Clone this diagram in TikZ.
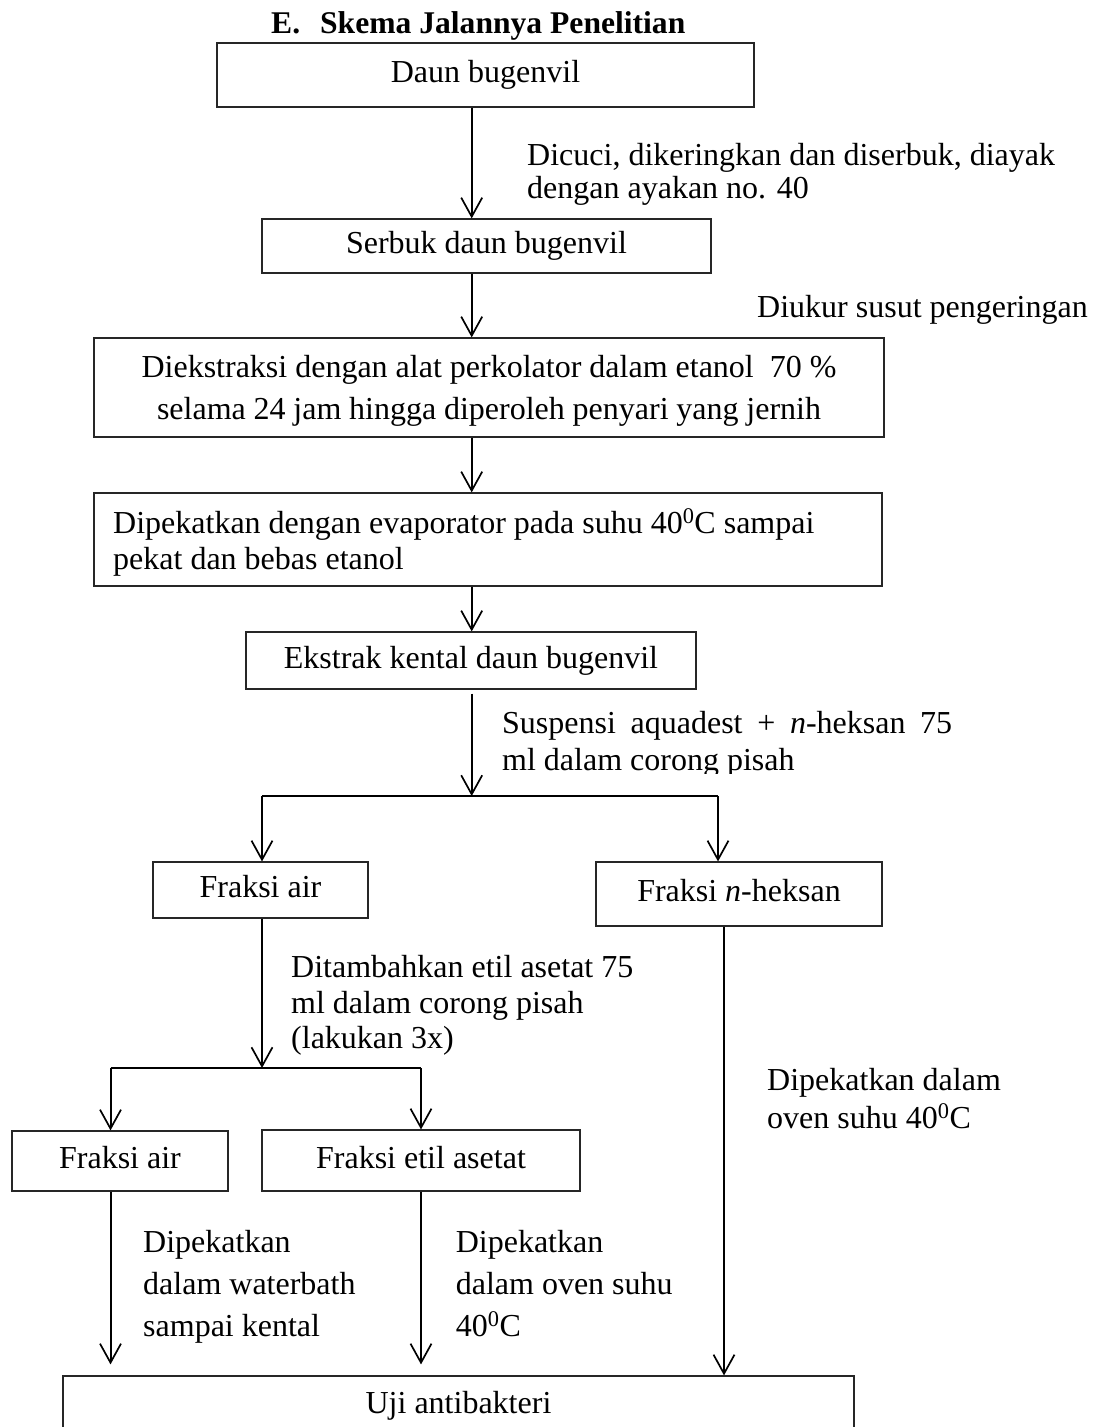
\documentclass[tikz,border=0pt]{standalone}
\usepackage{fontspec}
\setmainfont{Liberation Serif}
\usetikzlibrary{arrows.meta}
\begin{document}
\begin{tikzpicture}[x=1pt,y=-1pt,
  box/.style={draw=black!85, line width=1.2pt, inner sep=0pt,
    text height=22pt, text depth=7pt, font=\fontsize{32}{37}\selectfont},
  txt/.style={inner sep=0pt, anchor=base west, font=\fontsize{32}{37}\selectfont},
  ctxt/.style={inner sep=0pt, anchor=base, font=\fontsize{32}{37}\selectfont},
  flow/.style={draw=black, line width=2pt,
    -{Straight Barb[length=19pt,width=21pt,line width=1.7pt]}},
  link/.style={draw=black, line width=2pt}]
\useasboundingbox (0,0) rectangle (1104,1427);

% title
\node[txt, font=\bfseries\fontsize{31.6}{37}\selectfont] (title) at (271,33)
  {E.\hspace{20pt}Skema Jalannya Penelitian};

% boxes
\node[box, minimum width=537pt, minimum height=64pt] (b1) at (485.5,75) {Daun bugenvil};
\node[box, minimum width=449pt, minimum height=54pt] (b2) at (486.5,246) {Serbuk daun bugenvil};
\node[box, minimum width=790pt, minimum height=99pt] (b3) at (489,387.5) {};
\node[ctxt] (t3a) at (489,377) {Diekstraksi dengan alat perkolator dalam etanol\ \ 70 \%};
\node[ctxt] (t3b) at (489,419) {\makebox[664pt][s]{selama 24 jam hingga diperoleh penyari yang jernih}};
\node[box, minimum width=788pt, minimum height=93pt] (b4) at (488,539.5) {};
\node[txt] (t4a) at (113,533) {Dipekatkan dengan evaporator pada suhu 40\textsuperscript{0}C sampai};
\node[txt] (t4b) at (113,569) {pekat dan bebas etanol};
\node[box, minimum width=450pt, minimum height=57pt] (b5) at (471,660.5) {Ekstrak kental daun bugenvil};
\node[box, minimum width=215pt, minimum height=56pt] (b6) at (260.5,890) {Fraksi air};
\node[box, minimum width=286pt, minimum height=64pt] (b7) at (739,894) {Fraksi \textit{n}-heksan};
\node[box, minimum width=216pt, minimum height=60pt] (b8) at (120,1161) {Fraksi air};
\node[box, minimum width=318pt, minimum height=61pt] (b9) at (421,1160.5) {Fraksi etil asetat};
\node[box, minimum width=791pt, minimum height=59pt] (b10) at (458.5,1405.5) {Uji antibakteri};

% helper coordinates
\coordinate (axis) at (471.7,0);
\coordinate (s1) at (471.7,796);
\coordinate (s1l) at (262,796);
\coordinate (s1r) at (718,796);
\coordinate (s2) at (262,1068);
\coordinate (s2l) at (110.5,1068);
\coordinate (s2r) at (421,1068);
\coordinate (c7) at (724,0);
\coordinate (c8) at (110.5,0);
\coordinate (c9) at (421,0);

% main chain
\draw[flow] (b1.south -| axis) -- (b2.north -| axis);
\draw[flow] (b2.south -| axis) -- (b3.north -| axis);
\draw[flow] (b3.south -| axis) -- (b4.north -| axis);
\draw[flow] (b4.south -| axis) -- (b5.north -| axis);
\draw[flow] ([yshift=-4pt]b5.south -| axis) -- (s1);
\draw[link] (s1l) -- (s1r);
\draw[flow] (s1l) -- (s1l |- b6.north);
\draw[flow] (s1r) -- (s1r |- b7.north);

% water fraction split
\draw[flow] (b6.south -| s2) -- (s2);
\draw[link] (s2l) -- (s2r);
\draw[flow] (s2l) -- (s2l |- b8.north);
\draw[flow] (s2r) -- (s2r |- b9.north);

% to antibacterial test
\draw[flow] (b7.south -| c7) -- (b10.north -| c7);
\draw[flow, shorten >=11pt] (b8.south -| c8) -- (b10.north -| c8);
\draw[flow, shorten >=11pt] (b9.south -| c9) -- (b10.north -| c9);

% labels
\node[txt] (l1a) at (527,165) {Dicuci, dikeringkan dan diserbuk, diayak};
\node[txt] (l1b) at (527,198) {dengan ayakan no. 40};
\node[txt] (l2) at (757,317) {Diukur susut pengeringan};
\node[txt] (l3a) at (502,733) {\makebox[450pt][s]{Suspensi aquadest + \textit{n}-heksan 75}};
\begin{scope}
  \clip (480,740) rectangle (1000,773);
  \node[txt] (l3b) at (502,770) {ml dalam corong pisah};
\end{scope}
\node[txt] (l4a) at (291,977) {Ditambahkan etil asetat 75};
\node[txt] (l4b) at (291,1013) {ml dalam corong pisah};
\node[txt] (l4c) at (291,1048) {(lakukan 3x)};
\node[txt] (l5a) at (767,1090) {Dipekatkan dalam};
\node[txt] (l5b) at (767,1128) {oven suhu 40\textsuperscript{0}C};
\node[txt] (l6a) at (143,1252) {Dipekatkan};
\node[txt] (l6b) at (143,1294) {dalam waterbath};
\node[txt] (l6c) at (143,1336) {sampai kental};
\node[txt] (l7a) at (455.6,1252) {Dipekatkan};
\node[txt] (l7b) at (455.6,1294) {dalam oven suhu};
\node[txt] (l7c) at (455.6,1336) {40\textsuperscript{0}C};
\end{tikzpicture}
\end{document}
